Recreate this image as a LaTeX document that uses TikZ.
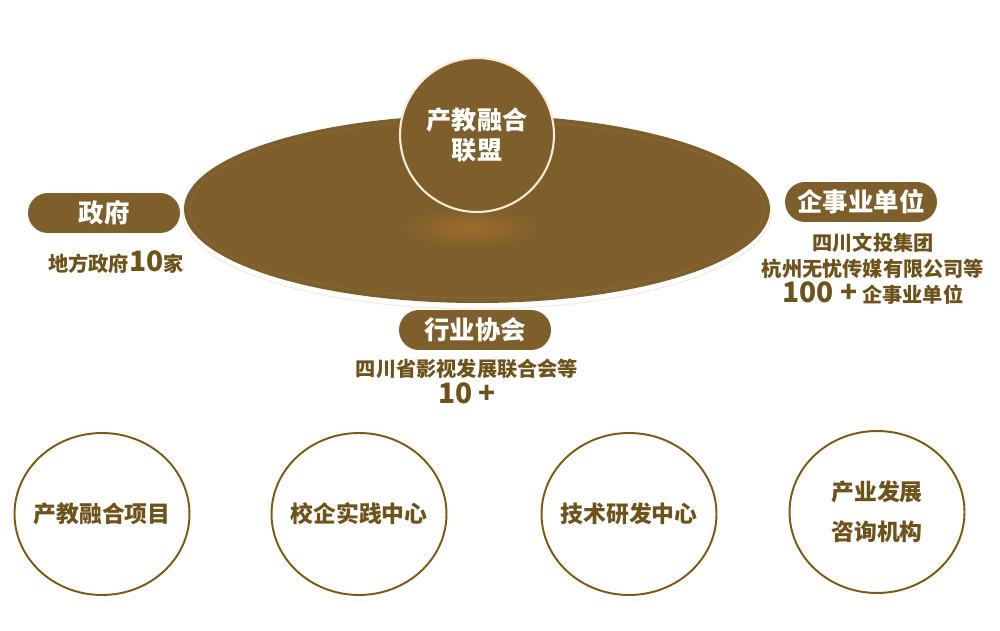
\documentclass[tikz,border=0pt]{standalone}
\usepackage{fontspec}
\setmainfont{Noto Sans CJK SC}
\usetikzlibrary{shapes.geometric}
\definecolor{Bronze}{HTML}{7E5F2C}
\definecolor{BronzeText}{HTML}{6E521B}
\definecolor{BronzeLine}{HTML}{7A5A14}
\definecolor{Cream}{HTML}{F6EAD8}
\definecolor{Glow}{HTML}{9C6D2C}

\newcommand{\drawpill}[4]{% Parameters: name, x, y, label
  \node[pill] (#1) at (#2,#3) {#4};
}
\newcommand{\drawhub}[4]{% Parameters: name, x, y, label
  \node[hub] (#1) at (#2,#3) {};
  \node[hubtext] (#1text) at (#1) {#4};
}

\begin{document}
\begin{tikzpicture}[x=0.02cm,y=-0.02cm,
    pill/.style={fill=Bronze,rounded corners=0.4cm,minimum width=3.04cm,minimum height=0.8cm,
      text=white,font=\bfseries\fontsize{14.5}{17}\selectfont,inner sep=0pt},
    sublabel/.style={text=BronzeText,font=\bfseries\fontsize{11.5}{14}\selectfont,align=center,inner sep=0pt},
    hub/.style={ellipse,draw=BronzeLine,line width=1.1pt,minimum width=3.5cm,minimum height=3.24cm,inner sep=0pt},
    hubtext/.style={text=BronzeText,font=\bfseries\fontsize{13}{23}\selectfont,align=center,inner sep=0pt},
    big/.style={font=\bfseries\fontsize{16}{14}\selectfont}]
  \useasboundingbox[fill=white] (0,0) rectangle (1000,631);
  % the alliance disc
  \draw[Cream,line width=0.6pt] (477,213) ellipse [x radius=294, y radius=96];
  \fill[Bronze] (477,209) ellipse [x radius=293, y radius=94];
  \draw[Bronze!93!white,line width=0.4pt] (477,209) ellipse [x radius=287, y radius=89];
  \shade[inner color=Glow,outer color=Bronze] (470,228) ellipse [x radius=70, y radius=20];
  \node[circle,fill=Bronze,draw=Cream,line width=1.2pt,minimum size=3.08cm,text=white,
    font=\bfseries\fontsize{14.3}{17}\selectfont,align=center] (alliance) at (477,135)
    {产教融合\\联盟};
  % partners
  \drawpill{gov}{104}{213}{政府}
  \node[sublabel,anchor=base] (govtext) at (116,272) {地方政府{\fontsize{16}{14}\selectfont 10}家};
  \drawpill{firm}{861}{202}{企事业单位}
  \node[sublabel,anchor=base] (firmtext1) at (873,251) {四川文投集团};
  \node[sublabel,anchor=base] (firmtext2) at (873,277) {杭州无忧传媒有限公司等};
  \node[sublabel,anchor=base] (firmtext3) at (873,303) {{\fontsize{16}{14}\selectfont 100 +} 企事业单位};
  \drawpill{assoc}{475}{330}{行业协会}
  \node[sublabel,anchor=base] (assoctext1) at (467,377) {四川省影视发展联合会等};
  \node[sublabel,anchor=base,big] (assoctext2) at (467,403) {10 +};
  % platforms
  \drawhub{project}{102}{514}{产教融合项目}
  \drawhub{practice}{359}{514}{校企实践中心}
  \drawhub{research}{629}{514}{技术研发中心}
  \drawhub{consult}{877}{512}{产业发展\\咨询机构}
\end{tikzpicture}
\end{document}
